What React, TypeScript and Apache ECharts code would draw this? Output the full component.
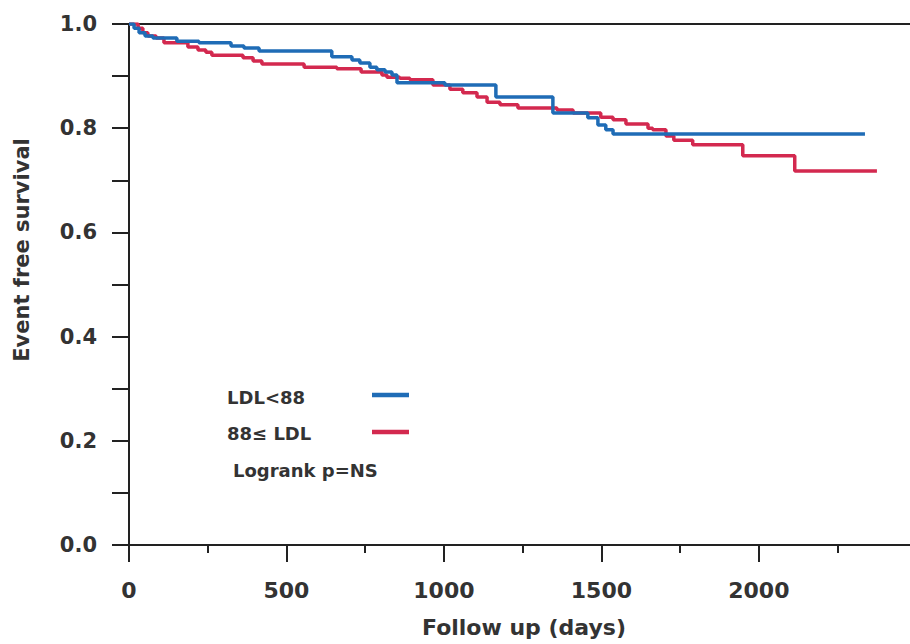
import React, { useEffect, useRef } from "react";
import * as echarts from "echarts";

// Kaplan-Meier step data (day, event-free survival)
const blueDays = [0, 16, 32, 51, 76, 152, 222, 324, 365, 413, 644, 708, 733, 765, 787, 813, 835, 851, 1003, 1165, 1346, 1457, 1489, 1514, 1537, 2337];
const blueSurv = [1, 0.992, 0.983, 0.977, 0.973, 0.967, 0.964, 0.958, 0.954, 0.948, 0.937, 0.931, 0.925, 0.917, 0.912, 0.908, 0.902, 0.887, 0.883, 0.86, 0.829, 0.82, 0.806, 0.797, 0.789, 0.789];

const redDays = [0, 29, 44, 60, 86, 111, 187, 219, 244, 263, 362, 394, 422, 556, 660, 737, 803, 819, 860, 892, 965, 1019, 1060, 1105, 1137, 1178, 1235, 1359, 1410, 1498, 1537, 1578, 1648, 1663, 1705, 1730, 1790, 1949, 2114, 2375];
const redSurv = [1, 0.992, 0.983, 0.977, 0.973, 0.964, 0.956, 0.95, 0.946, 0.94, 0.935, 0.929, 0.923, 0.917, 0.914, 0.908, 0.902, 0.898, 0.896, 0.893, 0.883, 0.875, 0.868, 0.86, 0.85, 0.845, 0.839, 0.835, 0.829, 0.821, 0.816, 0.808, 0.8, 0.797, 0.785, 0.777, 0.768, 0.747, 0.718, 0.718];

const xTickValues = [0, 500, 1000, 1500, 2000];
const seriesNames = ["LDL<88", "88≤ LDL"];
const xAxisTitle = "Follow up (days)";
const yAxisTitle = "Event free survival";
const noteText = "Logrank p=NS";

const BLUE = "#1f6cb6";
const RED = "#d3294f";
const TEXT = "#333333";
const FONT = "DejaVu Sans";

export default function App() {
  const ref = useRef<HTMLDivElement>(null);
  useEffect(() => {
    if (!ref.current) return;
    const chart = echarts.init(ref.current, null, { renderer: "svg" });
    const blue = blueDays.map((d, i) => [d, blueSurv[i]]);
    const red = redDays.map((d, i) => [d, redSurv[i]]);
    chart.setOption({
      animation: false,
      backgroundColor: "#ffffff",
      grid: { left: 129, right: 0, top: 24, bottom: 99 },
      xAxis: [
        {
          type: "value",
          min: 0,
          max: 2480,
          interval: 500,
          axisLine: { show: true, onZero: false, lineStyle: { color: "#222", width: 2 } },
          axisTick: { show: true, length: 17, customValues: xTickValues, lineStyle: { color: "#222", width: 2 } },
          minorTick: { show: true, splitNumber: 2, length: 8, lineStyle: { color: "#222", width: 2 } },
          splitLine: { show: false },
          axisLabel: {
            margin: 34,
            showMaxLabel: false,
            color: TEXT,
            fontFamily: FONT,
            fontWeight: "bold",
            fontSize: 22,
            formatter: (v: number) => (v % 500 === 0 ? String(v) : ""),
          },
        },
        {
          type: "value",
          position: "top",
          min: 0,
          max: 2480,
          axisLine: { show: true, onZero: false, lineStyle: { color: "#222", width: 2 } },
          axisTick: { show: false },
          axisLabel: { show: false },
          splitLine: { show: false },
        },
      ],
      yAxis: {
        type: "value",
        min: 0,
        max: 1,
        interval: 0.1,
        axisLine: { show: true, onZero: false, lineStyle: { color: "#222", width: 2 } },
        axisTick: { show: true, length: 17, lineStyle: { color: "#222", width: 2 } },
        splitLine: { show: false },
        axisLabel: {
          margin: 32,
          color: TEXT,
          fontFamily: FONT,
          fontWeight: "bold",
          fontSize: 21,
          formatter: (v: number) => (Math.round(v * 10) % 2 === 0 ? v.toFixed(1) : ""),
        },
      },
      series: [
        {
          name: seriesNames[1],
          type: "line",
          step: "end",
          data: red,
          symbol: "none",
          lineStyle: { color: RED, width: 3.5 },
          z: 2,
        },
        {
          name: seriesNames[0],
          type: "line",
          step: "end",
          data: blue,
          symbol: "none",
          lineStyle: { color: BLUE, width: 3.5 },
          z: 3,
        },
      ],
      graphic: [
        {
          type: "text",
          x: 22,
          y: 250,
          rotation: Math.PI / 2,
          style: {
            text: yAxisTitle,
            fill: TEXT,
            font: `bold 21px "${FONT}"`,
            align: "center",
            verticalAlign: "middle",
          },
        },
        {
          type: "text",
          x: 524,
          y: 627,
          style: {
            text: xAxisTitle,
            fill: TEXT,
            font: `bold 22px "${FONT}"`,
            align: "center",
            verticalAlign: "middle",
          },
        },
        {
          type: "text",
          x: 227,
          y: 397,
          style: { text: seriesNames[0], fill: TEXT, font: `bold 18px "${FONT}"`, align: "left", verticalAlign: "middle" },
        },
        {
          type: "text",
          x: 227,
          y: 433,
          style: { text: seriesNames[1], fill: TEXT, font: `bold 18px "${FONT}"`, align: "left", verticalAlign: "middle" },
        },
        {
          type: "text",
          x: 233,
          y: 470,
          style: { text: noteText, fill: TEXT, font: `bold 18px "${FONT}"`, align: "left", verticalAlign: "middle" },
        },
        {
          type: "line",
          shape: { x1: 372, y1: 395, x2: 409, y2: 395 },
          style: { stroke: BLUE, lineWidth: 4.5 },
        },
        {
          type: "line",
          shape: { x1: 372, y1: 432, x2: 409, y2: 432 },
          style: { stroke: RED, lineWidth: 4.5 },
        },
      ],
    });
    return () => chart.dispose();
  }, []);
  return (
    <div
      ref={ref}
      style={{ position: "fixed", left: 0, top: 0, width: 910, height: 644, background: "#fff" }}
    />
  );
}
